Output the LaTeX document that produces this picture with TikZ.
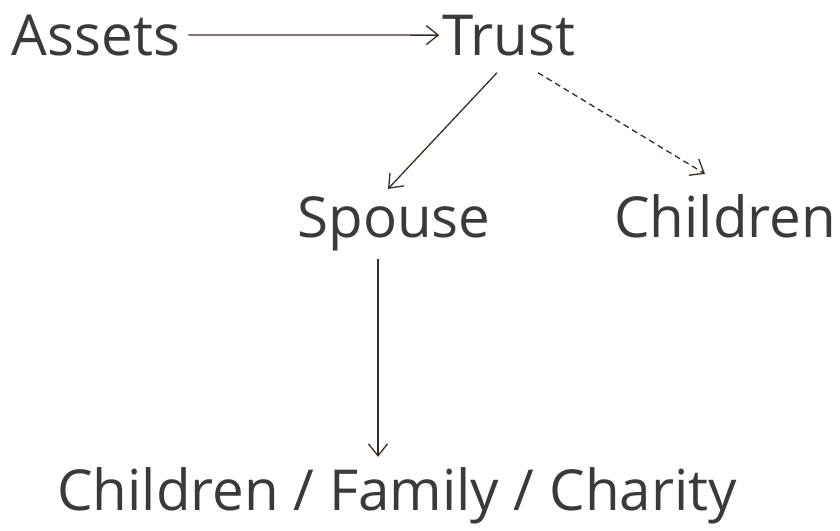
\documentclass[tikz,border=0pt]{standalone}
\usepackage{fontspec}
\setmainfont{Open Sans}
\usetikzlibrary{arrows.meta}
\definecolor{txt}{HTML}{3A3A3A}
\definecolor{ink}{HTML}{3B2A20}
\tikzset{
    every picture/.style={x=1pt,y=-1pt},
    word/.style={inner sep=0pt,anchor=base,text=txt,font=\fontsize{56.5}{66}\selectfont},
    link/.style={draw=ink,line width=1.3pt,-{Straight Barb[length=12pt,width=19pt]}}
}

\begin{document}
\begin{tikzpicture}
    \useasboundingbox (0,0) rectangle (840,530);
    \node[word] (assets)   at (96,55)  {Assets};
    \node[word] (trust)    at (509,55) {Trust};
    \node[word] (spouse)   at (394,237) {Spouse};
    \node[word] (children) at (725,237) {Children};
    \node[word] (family)   at (397,510) {Children / Family / Charity};
    \draw[link] ([xshift=8pt]assets.east) -- ([xshift=-3pt]trust.west);
    \draw[link] ([xshift=-12pt,yshift=-17pt]trust.south) -- ([xshift=-6pt,yshift=7pt]spouse.north);
    \draw[link,dash pattern=on 6pt off 4pt] ([xshift=29pt,yshift=-17pt]trust.south) -- ([xshift=-20pt,yshift=20pt]children.north);
    \draw[link] ([xshift=-16pt,yshift=-8pt]spouse.south) -- ([xshift=-19pt,yshift=10pt]family.north);
\end{tikzpicture}
\end{document}
